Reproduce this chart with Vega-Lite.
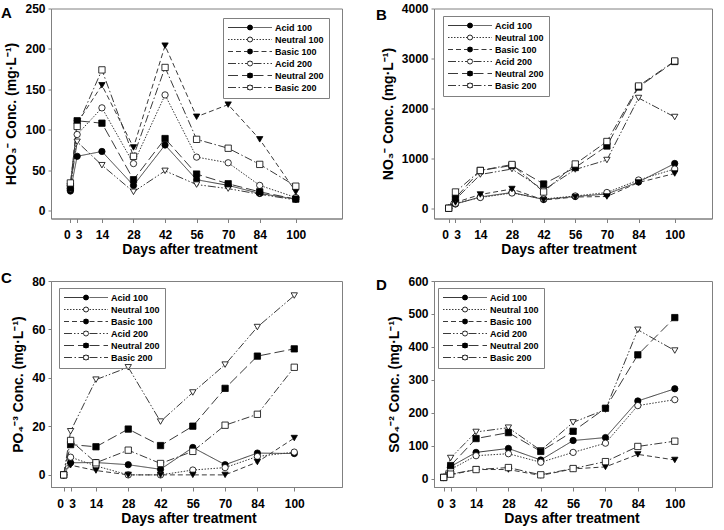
{
"$schema": "https://vega.github.io/schema/vega-lite/v6.json",
"padding": {"left": 0, "top": 1.5, "right": 0, "bottom": 0},
"background": "white",
"columns": 2,
"spacing": {"row": 62.5, "column": 92},
"bounds": "flush",
"resolve": {"scale": {"strokeDash": "independent", "shape": "independent", "fill": "independent"}, "legend": {"strokeDash": "independent", "shape": "independent", "fill": "independent"}},
"config": {
  "font": "Liberation Sans",
  "view": {"stroke": "#808080", "strokeWidth": 1},
  "axis": {"labelFont": "Liberation Sans", "labelFontWeight": "bold", "labelFontSize": 12, "labelColor": "black", "titleFont": "Liberation Sans", "titleFontWeight": "bold", "titleFontSize": 14, "titleColor": "black", "domainColor": "#808080", "tickColor": "#808080", "grid": false, "labelOverlap": false, "labelFlush": false, "labelBound": false},
  "axisX": {"tickSize": 4, "labelPadding": 7, "titlePadding": 2, "labelOffset": {"condition": [{"test": "datum.value === 0", "value": -3.5}, {"test": "datum.value === 3", "value": 1.5}], "value": 0}},
  "axisY": {"tickSize": 3, "labelPadding": 3, "titlePadding": 6},
  "legend": {"labelFont": "Liberation Sans", "labelFontWeight": "bold", "labelFontSize": 9, "labelColor": "black", "padding": 5, "rowPadding": 2},
  "title": {"font": "Liberation Sans", "fontWeight": "bold", "fontSize": 15, "color": "black"}
},
"data": {"values": [
{"p":"A","s":"Acid 100","d":0,"v":24},{"p":"A","s":"Acid 100","d":3,"v":67},{"p":"A","s":"Acid 100","d":14,"v":73},{"p":"A","s":"Acid 100","d":28,"v":31},{"p":"A","s":"Acid 100","d":42,"v":81},{"p":"A","s":"Acid 100","d":56,"v":38},{"p":"A","s":"Acid 100","d":70,"v":31},{"p":"A","s":"Acid 100","d":84,"v":21},{"p":"A","s":"Acid 100","d":100,"v":14},
{"p":"A","s":"Neutral 100","d":0,"v":27},{"p":"A","s":"Neutral 100","d":3,"v":94},{"p":"A","s":"Neutral 100","d":14,"v":127},{"p":"A","s":"Neutral 100","d":28,"v":58},{"p":"A","s":"Neutral 100","d":42,"v":143},{"p":"A","s":"Neutral 100","d":56,"v":66},{"p":"A","s":"Neutral 100","d":70,"v":59},{"p":"A","s":"Neutral 100","d":84,"v":31},{"p":"A","s":"Neutral 100","d":100,"v":16},
{"p":"A","s":"Basic 100","d":0,"v":30},{"p":"A","s":"Basic 100","d":3,"v":108},{"p":"A","s":"Basic 100","d":14,"v":155},{"p":"A","s":"Basic 100","d":28,"v":78},{"p":"A","s":"Basic 100","d":42,"v":204},{"p":"A","s":"Basic 100","d":56,"v":116},{"p":"A","s":"Basic 100","d":70,"v":131},{"p":"A","s":"Basic 100","d":84,"v":88},{"p":"A","s":"Basic 100","d":100,"v":23},
{"p":"A","s":"Acid 200","d":0,"v":30},{"p":"A","s":"Acid 200","d":3,"v":85},{"p":"A","s":"Acid 200","d":14,"v":56},{"p":"A","s":"Acid 200","d":28,"v":23},{"p":"A","s":"Acid 200","d":42,"v":49},{"p":"A","s":"Acid 200","d":56,"v":32},{"p":"A","s":"Acid 200","d":70,"v":27},{"p":"A","s":"Acid 200","d":84,"v":20},{"p":"A","s":"Acid 200","d":100,"v":13},
{"p":"A","s":"Neutral 200","d":0,"v":28},{"p":"A","s":"Neutral 200","d":3,"v":111},{"p":"A","s":"Neutral 200","d":14,"v":108},{"p":"A","s":"Neutral 200","d":28,"v":38},{"p":"A","s":"Neutral 200","d":42,"v":89},{"p":"A","s":"Neutral 200","d":56,"v":45},{"p":"A","s":"Neutral 200","d":70,"v":33},{"p":"A","s":"Neutral 200","d":84,"v":23},{"p":"A","s":"Neutral 200","d":100,"v":14},
{"p":"A","s":"Basic 200","d":0,"v":34},{"p":"A","s":"Basic 200","d":3,"v":104},{"p":"A","s":"Basic 200","d":14,"v":174},{"p":"A","s":"Basic 200","d":28,"v":67},{"p":"A","s":"Basic 200","d":42,"v":177},{"p":"A","s":"Basic 200","d":56,"v":88},{"p":"A","s":"Basic 200","d":70,"v":77},{"p":"A","s":"Basic 200","d":84,"v":57},{"p":"A","s":"Basic 200","d":100,"v":30},
{"p":"B","s":"Acid 100","d":0,"v":5},{"p":"B","s":"Acid 100","d":3,"v":90},{"p":"B","s":"Acid 100","d":14,"v":230},{"p":"B","s":"Acid 100","d":28,"v":320},{"p":"B","s":"Acid 100","d":42,"v":180},{"p":"B","s":"Acid 100","d":56,"v":240},{"p":"B","s":"Acid 100","d":70,"v":290},{"p":"B","s":"Acid 100","d":84,"v":530},{"p":"B","s":"Acid 100","d":100,"v":900},
{"p":"B","s":"Neutral 100","d":0,"v":5},{"p":"B","s":"Neutral 100","d":3,"v":100},{"p":"B","s":"Neutral 100","d":14,"v":220},{"p":"B","s":"Neutral 100","d":28,"v":310},{"p":"B","s":"Neutral 100","d":42,"v":190},{"p":"B","s":"Neutral 100","d":56,"v":250},{"p":"B","s":"Neutral 100","d":70,"v":320},{"p":"B","s":"Neutral 100","d":84,"v":570},{"p":"B","s":"Neutral 100","d":100,"v":790},
{"p":"B","s":"Basic 100","d":0,"v":5},{"p":"B","s":"Basic 100","d":3,"v":120},{"p":"B","s":"Basic 100","d":14,"v":280},{"p":"B","s":"Basic 100","d":28,"v":390},{"p":"B","s":"Basic 100","d":42,"v":170},{"p":"B","s":"Basic 100","d":56,"v":230},{"p":"B","s":"Basic 100","d":70,"v":240},{"p":"B","s":"Basic 100","d":84,"v":520},{"p":"B","s":"Basic 100","d":100,"v":700},
{"p":"B","s":"Acid 200","d":0,"v":5},{"p":"B","s":"Acid 200","d":3,"v":180},{"p":"B","s":"Acid 200","d":14,"v":680},{"p":"B","s":"Acid 200","d":28,"v":790},{"p":"B","s":"Acid 200","d":42,"v":370},{"p":"B","s":"Acid 200","d":56,"v":780},{"p":"B","s":"Acid 200","d":70,"v":970},{"p":"B","s":"Acid 200","d":84,"v":2210},{"p":"B","s":"Acid 200","d":100,"v":1830},
{"p":"B","s":"Neutral 200","d":0,"v":5},{"p":"B","s":"Neutral 200","d":3,"v":210},{"p":"B","s":"Neutral 200","d":14,"v":760},{"p":"B","s":"Neutral 200","d":28,"v":860},{"p":"B","s":"Neutral 200","d":42,"v":490},{"p":"B","s":"Neutral 200","d":56,"v":820},{"p":"B","s":"Neutral 200","d":70,"v":1250},{"p":"B","s":"Neutral 200","d":84,"v":2430},{"p":"B","s":"Neutral 200","d":100,"v":2940},
{"p":"B","s":"Basic 200","d":0,"v":5},{"p":"B","s":"Basic 200","d":3,"v":330},{"p":"B","s":"Basic 200","d":14,"v":760},{"p":"B","s":"Basic 200","d":28,"v":880},{"p":"B","s":"Basic 200","d":42,"v":330},{"p":"B","s":"Basic 200","d":56,"v":890},{"p":"B","s":"Basic 200","d":70,"v":1340},{"p":"B","s":"Basic 200","d":84,"v":2450},{"p":"B","s":"Basic 200","d":100,"v":2950},
{"p":"C","s":"Acid 100","d":0,"v":0},{"p":"C","s":"Acid 100","d":3,"v":5},{"p":"C","s":"Acid 100","d":14,"v":5.1},{"p":"C","s":"Acid 100","d":28,"v":4.2},{"p":"C","s":"Acid 100","d":42,"v":2.3},{"p":"C","s":"Acid 100","d":56,"v":11.3},{"p":"C","s":"Acid 100","d":70,"v":4.2},{"p":"C","s":"Acid 100","d":84,"v":9},{"p":"C","s":"Acid 100","d":100,"v":8.8},
{"p":"C","s":"Neutral 100","d":0,"v":0},{"p":"C","s":"Neutral 100","d":3,"v":7.3},{"p":"C","s":"Neutral 100","d":14,"v":3.7},{"p":"C","s":"Neutral 100","d":28,"v":0},{"p":"C","s":"Neutral 100","d":42,"v":0},{"p":"C","s":"Neutral 100","d":56,"v":2},{"p":"C","s":"Neutral 100","d":70,"v":3},{"p":"C","s":"Neutral 100","d":84,"v":7.6},{"p":"C","s":"Neutral 100","d":100,"v":9.4},
{"p":"C","s":"Basic 100","d":0,"v":0},{"p":"C","s":"Basic 100","d":3,"v":4},{"p":"C","s":"Basic 100","d":14,"v":1.8},{"p":"C","s":"Basic 100","d":28,"v":0},{"p":"C","s":"Basic 100","d":42,"v":0},{"p":"C","s":"Basic 100","d":56,"v":0},{"p":"C","s":"Basic 100","d":70,"v":0},{"p":"C","s":"Basic 100","d":84,"v":5.3},{"p":"C","s":"Basic 100","d":100,"v":15.2},
{"p":"C","s":"Acid 200","d":0,"v":0},{"p":"C","s":"Acid 200","d":3,"v":18},{"p":"C","s":"Acid 200","d":14,"v":39.3},{"p":"C","s":"Acid 200","d":28,"v":44.4},{"p":"C","s":"Acid 200","d":42,"v":22},{"p":"C","s":"Acid 200","d":56,"v":34},{"p":"C","s":"Acid 200","d":70,"v":45.5},{"p":"C","s":"Acid 200","d":84,"v":61},{"p":"C","s":"Acid 200","d":100,"v":74},
{"p":"C","s":"Neutral 200","d":0,"v":0},{"p":"C","s":"Neutral 200","d":3,"v":12.5},{"p":"C","s":"Neutral 200","d":14,"v":11.6},{"p":"C","s":"Neutral 200","d":28,"v":18.9},{"p":"C","s":"Neutral 200","d":42,"v":12.1},{"p":"C","s":"Neutral 200","d":56,"v":20.1},{"p":"C","s":"Neutral 200","d":70,"v":35.7},{"p":"C","s":"Neutral 200","d":84,"v":49},{"p":"C","s":"Neutral 200","d":100,"v":52},
{"p":"C","s":"Basic 200","d":0,"v":0},{"p":"C","s":"Basic 200","d":3,"v":14.2},{"p":"C","s":"Basic 200","d":14,"v":5},{"p":"C","s":"Basic 200","d":28,"v":10.2},{"p":"C","s":"Basic 200","d":42,"v":4.7},{"p":"C","s":"Basic 200","d":56,"v":9.7},{"p":"C","s":"Basic 200","d":70,"v":20.5},{"p":"C","s":"Basic 200","d":84,"v":25},{"p":"C","s":"Basic 200","d":100,"v":44.4},
{"p":"D","s":"Acid 100","d":0,"v":4},{"p":"D","s":"Acid 100","d":3,"v":37},{"p":"D","s":"Acid 100","d":14,"v":80},{"p":"D","s":"Acid 100","d":28,"v":92},{"p":"D","s":"Acid 100","d":42,"v":57},{"p":"D","s":"Acid 100","d":56,"v":116},{"p":"D","s":"Acid 100","d":70,"v":125},{"p":"D","s":"Acid 100","d":84,"v":236},{"p":"D","s":"Acid 100","d":100,"v":273},
{"p":"D","s":"Neutral 100","d":0,"v":4},{"p":"D","s":"Neutral 100","d":3,"v":28},{"p":"D","s":"Neutral 100","d":14,"v":70},{"p":"D","s":"Neutral 100","d":28,"v":76},{"p":"D","s":"Neutral 100","d":42,"v":50},{"p":"D","s":"Neutral 100","d":56,"v":80},{"p":"D","s":"Neutral 100","d":70,"v":108},{"p":"D","s":"Neutral 100","d":84,"v":222},{"p":"D","s":"Neutral 100","d":100,"v":240},
{"p":"D","s":"Basic 100","d":0,"v":4},{"p":"D","s":"Basic 100","d":3,"v":12},{"p":"D","s":"Basic 100","d":14,"v":28},{"p":"D","s":"Basic 100","d":28,"v":28},{"p":"D","s":"Basic 100","d":42,"v":10},{"p":"D","s":"Basic 100","d":56,"v":30},{"p":"D","s":"Basic 100","d":70,"v":36},{"p":"D","s":"Basic 100","d":84,"v":74},{"p":"D","s":"Basic 100","d":100,"v":57},
{"p":"D","s":"Acid 200","d":0,"v":4},{"p":"D","s":"Acid 200","d":3,"v":63},{"p":"D","s":"Acid 200","d":14,"v":142},{"p":"D","s":"Acid 200","d":28,"v":155},{"p":"D","s":"Acid 200","d":42,"v":86},{"p":"D","s":"Acid 200","d":56,"v":171},{"p":"D","s":"Acid 200","d":70,"v":210},{"p":"D","s":"Acid 200","d":84,"v":452},{"p":"D","s":"Acid 200","d":100,"v":389},
{"p":"D","s":"Neutral 200","d":0,"v":4},{"p":"D","s":"Neutral 200","d":3,"v":40},{"p":"D","s":"Neutral 200","d":14,"v":122},{"p":"D","s":"Neutral 200","d":28,"v":140},{"p":"D","s":"Neutral 200","d":42,"v":83},{"p":"D","s":"Neutral 200","d":56,"v":144},{"p":"D","s":"Neutral 200","d":70,"v":214},{"p":"D","s":"Neutral 200","d":84,"v":376},{"p":"D","s":"Neutral 200","d":100,"v":489},
{"p":"D","s":"Basic 200","d":0,"v":4},{"p":"D","s":"Basic 200","d":3,"v":14},{"p":"D","s":"Basic 200","d":14,"v":28},{"p":"D","s":"Basic 200","d":28,"v":34},{"p":"D","s":"Basic 200","d":42,"v":12},{"p":"D","s":"Basic 200","d":56,"v":31},{"p":"D","s":"Basic 200","d":70,"v":52},{"p":"D","s":"Basic 200","d":84,"v":98},{"p":"D","s":"Basic 200","d":100,"v":114}
]},
"concat": [
{
  "width": 291, "height": 210,
  "title": {"text": "A", "anchor": "start", "frame": "group", "orient": "top", "offset": -13.5, "baseline": "top", "dx": -50, "dy": 5},
  "transform": [{"filter": "datum.p === 'A'"}],
  "encoding": {
    "x": {"field": "d", "type": "quantitative", "scale": {"domain": [-8.6, 120.5], "nice": false, "zero": false}, "axis": {"values": [0,3,14,28,42,56,70,84,100], "title": "Days after treatment", "titleX": 138.5}},
    "y": {"field": "v", "type": "quantitative", "scale": {"domain": [-10, 250], "nice": false, "zero": false}, "axis": {"values": [0,50,100,150,200,250], "format": "d", "title": "HCO₃⁻ Conc. (mg·L⁻¹)"}}
  },
  "layer": [
    {"mark": {"type": "line", "color": "#3a3a3a", "strokeWidth": 1},
     "encoding": {"strokeDash": {"field": "s", "type": "nominal",
        "scale": {"domain": ["Acid 100","Neutral 100","Basic 100","Acid 200","Neutral 200","Basic 200"], "range": [[1,0],[1.5,1.5],[5,3],[8,2,1.5,2,1.5,2],[10,4],[8,2.5,1.5,2.5]]},
        "legend": {"title": null, "orient": "none", "legendX": 172, "legendY": 9.5, "symbolType": "M-1.125,0H3.75M5.25,0H9.875", "symbolSize": 64, "symbolStrokeWidth": 1, "symbolStrokeColor": "#3a3a3a", "labelOffset": 38, "strokeColor": "#808080"}}}},
    {"mark": {"type": "point", "filled": true, "opacity": 1, "size": 40, "stroke": "black", "strokeWidth": 0.8},
     "encoding": {
       "shape": {"field": "s", "type": "nominal", "sort": ["Acid 100","Neutral 100","Basic 100","Acid 200","Neutral 200","Basic 200"], "scale": {"range": ["circle","circle","triangle-down","triangle-down","square","square"]},
         "legend": {"title": null, "orient": "none", "legendX": 172, "legendY": 9.5, "symbolSize": 25, "symbolStrokeWidth": 0.8, "symbolStrokeColor": "black", "symbolOffset": 17.5, "labelExpr": "''"}},
       "fill": {"field": "s", "type": "nominal", "sort": ["Acid 100","Neutral 100","Basic 100","Acid 200","Neutral 200","Basic 200"], "scale": {"range": ["black","white","black","white","black","white"]},
         "legend": {"title": null, "orient": "none", "legendX": 172, "legendY": 9.5, "symbolSize": 25, "symbolStrokeWidth": 0.8, "symbolStrokeColor": "black", "symbolOffset": 17.5, "labelExpr": "''"}}
     }}
  ]
},
{
  "width": 278, "height": 210,
  "title": {"text": "B", "anchor": "start", "frame": "group", "orient": "top", "offset": -13.5, "baseline": "top", "dx": -58, "dy": 7},
  "transform": [{"filter": "datum.p === 'B'"}],
  "encoding": {
    "x": {"field": "d", "type": "quantitative", "scale": {"domain": [-6.5, 116.5], "nice": false, "zero": false}, "axis": {"values": [0,3,14,28,42,56,70,84,100], "title": "Days after treatment", "titleX": 134.5}},
    "y": {"field": "v", "type": "quantitative", "scale": {"domain": [-200, 4000], "nice": false, "zero": false}, "axis": {"values": [0,1000,2000,3000,4000], "format": "d", "title": "NO₃⁻ Conc. (mg·L⁻¹)"}}
  },
  "layer": [
    {"mark": {"type": "line", "color": "#3a3a3a", "strokeWidth": 1},
     "encoding": {"strokeDash": {"field": "s", "type": "nominal",
        "scale": {"domain": ["Acid 100","Neutral 100","Basic 100","Acid 200","Neutral 200","Basic 200"], "range": [[1,0],[1.5,1.5],[5,3],[8,2,1.5,2,1.5,2],[10,4],[8,2.5,1.5,2.5]]},
        "legend": {"title": null, "orient": "none", "legendX": 9, "legendY": 7.5, "symbolType": "M-1.125,0H3.75M5.25,0H9.875", "symbolSize": 64, "symbolStrokeWidth": 1, "symbolStrokeColor": "#3a3a3a", "labelOffset": 38, "strokeColor": "#808080"}}}},
    {"mark": {"type": "point", "filled": true, "opacity": 1, "size": 40, "stroke": "black", "strokeWidth": 0.8},
     "encoding": {
       "shape": {"field": "s", "type": "nominal", "sort": ["Acid 100","Neutral 100","Basic 100","Acid 200","Neutral 200","Basic 200"], "scale": {"range": ["circle","circle","triangle-down","triangle-down","square","square"]},
         "legend": {"title": null, "orient": "none", "legendX": 9, "legendY": 7.5, "symbolSize": 25, "symbolStrokeWidth": 0.8, "symbolStrokeColor": "black", "symbolOffset": 17.5, "labelExpr": "''"}},
       "fill": {"field": "s", "type": "nominal", "sort": ["Acid 100","Neutral 100","Basic 100","Acid 200","Neutral 200","Basic 200"], "scale": {"range": ["black","white","black","white","black","white"]},
         "legend": {"title": null, "orient": "none", "legendX": 9, "legendY": 7.5, "symbolSize": 25, "symbolStrokeWidth": 0.8, "symbolStrokeColor": "black", "symbolOffset": 17.5, "labelExpr": "''"}}
     }}
  ]
},
{
  "width": 291, "height": 206,
  "title": {"text": "C", "anchor": "start", "frame": "group", "orient": "top", "offset": -13.5, "baseline": "top", "dx": -50, "dy": -2.5},
  "transform": [{"filter": "datum.p === 'C'"}],
  "encoding": {
    "x": {"field": "d", "type": "quantitative", "scale": {"domain": [-5.5, 120.7], "nice": false, "zero": false}, "axis": {"values": [0,3,14,28,42,56,70,84,100], "title": "Days after treatment", "titleX": 137.5}},
    "y": {"field": "v", "type": "quantitative", "scale": {"domain": [-5, 80], "nice": false, "zero": false}, "axis": {"values": [0,20,40,60,80], "format": "d", "title": "PO₄⁻³ Conc. (mg·L⁻¹)"}}
  },
  "layer": [
    {"mark": {"type": "line", "color": "#3a3a3a", "strokeWidth": 1},
     "encoding": {"strokeDash": {"field": "s", "type": "nominal",
        "scale": {"domain": ["Acid 100","Neutral 100","Basic 100","Acid 200","Neutral 200","Basic 200"], "range": [[1,0],[1.5,1.5],[5,3],[8,2,1.5,2,1.5,2],[10,4],[8,2.5,1.5,2.5]]},
        "legend": {"title": null, "orient": "none", "legendX": 8, "legendY": 7, "symbolType": "M-1.125,0H3.75M5.25,0H9.875", "symbolSize": 64, "symbolStrokeWidth": 1, "symbolStrokeColor": "#3a3a3a", "labelOffset": 38, "strokeColor": "#808080"}}}},
    {"mark": {"type": "point", "filled": true, "opacity": 1, "size": 40, "stroke": "black", "strokeWidth": 0.8},
     "encoding": {
       "shape": {"field": "s", "type": "nominal", "sort": ["Acid 100","Neutral 100","Basic 100","Acid 200","Neutral 200","Basic 200"], "scale": {"range": ["circle","circle","triangle-down","triangle-down","square","square"]},
         "legend": {"title": null, "orient": "none", "legendX": 8, "legendY": 7, "symbolSize": 25, "symbolStrokeWidth": 0.8, "symbolStrokeColor": "black", "symbolOffset": 17.5, "labelExpr": "''"}},
       "fill": {"field": "s", "type": "nominal", "sort": ["Acid 100","Neutral 100","Basic 100","Acid 200","Neutral 200","Basic 200"], "scale": {"range": ["black","white","black","white","black","white"]},
         "legend": {"title": null, "orient": "none", "legendX": 8, "legendY": 7, "symbolSize": 25, "symbolStrokeWidth": 0.8, "symbolStrokeColor": "black", "symbolOffset": 17.5, "labelExpr": "''"}}
     }}
  ]
},
{
  "width": 278, "height": 206,
  "title": {"text": "D", "anchor": "start", "frame": "group", "orient": "top", "offset": -13.5, "baseline": "top", "dx": -58, "dy": 4.5},
  "transform": [{"filter": "datum.p === 'D'"}],
  "encoding": {
    "x": {"field": "d", "type": "quantitative", "scale": {"domain": [-4.2, 116.1], "nice": false, "zero": false}, "axis": {"values": [0,3,14,28,42,56,70,84,100], "title": "Days after treatment", "titleX": 137.5}},
    "y": {"field": "v", "type": "quantitative", "scale": {"domain": [-25, 600], "nice": false, "zero": false}, "axis": {"values": [0,100,200,300,400,500,600], "format": "d", "title": "SO₄⁻² Conc. (mg·L⁻¹)"}}
  },
  "layer": [
    {"mark": {"type": "line", "color": "#3a3a3a", "strokeWidth": 1},
     "encoding": {"strokeDash": {"field": "s", "type": "nominal",
        "scale": {"domain": ["Acid 100","Neutral 100","Basic 100","Acid 200","Neutral 200","Basic 200"], "range": [[1,0],[1.5,1.5],[5,3],[8,2,1.5,2,1.5,2],[10,4],[8,2.5,1.5,2.5]]},
        "legend": {"title": null, "orient": "none", "legendX": 4, "legendY": 7, "symbolType": "M-1.125,0H3.75M5.25,0H9.875", "symbolSize": 64, "symbolStrokeWidth": 1, "symbolStrokeColor": "#3a3a3a", "labelOffset": 38, "strokeColor": "#808080"}}}},
    {"mark": {"type": "point", "filled": true, "opacity": 1, "size": 40, "stroke": "black", "strokeWidth": 0.8},
     "encoding": {
       "shape": {"field": "s", "type": "nominal", "sort": ["Acid 100","Neutral 100","Basic 100","Acid 200","Neutral 200","Basic 200"], "scale": {"range": ["circle","circle","triangle-down","triangle-down","square","square"]},
         "legend": {"title": null, "orient": "none", "legendX": 4, "legendY": 7, "symbolSize": 25, "symbolStrokeWidth": 0.8, "symbolStrokeColor": "black", "symbolOffset": 17.5, "labelExpr": "''"}},
       "fill": {"field": "s", "type": "nominal", "sort": ["Acid 100","Neutral 100","Basic 100","Acid 200","Neutral 200","Basic 200"], "scale": {"range": ["black","white","black","white","black","white"]},
         "legend": {"title": null, "orient": "none", "legendX": 4, "legendY": 7, "symbolSize": 25, "symbolStrokeWidth": 0.8, "symbolStrokeColor": "black", "symbolOffset": 17.5, "labelExpr": "''"}}
     }}
  ]
}
]
}
